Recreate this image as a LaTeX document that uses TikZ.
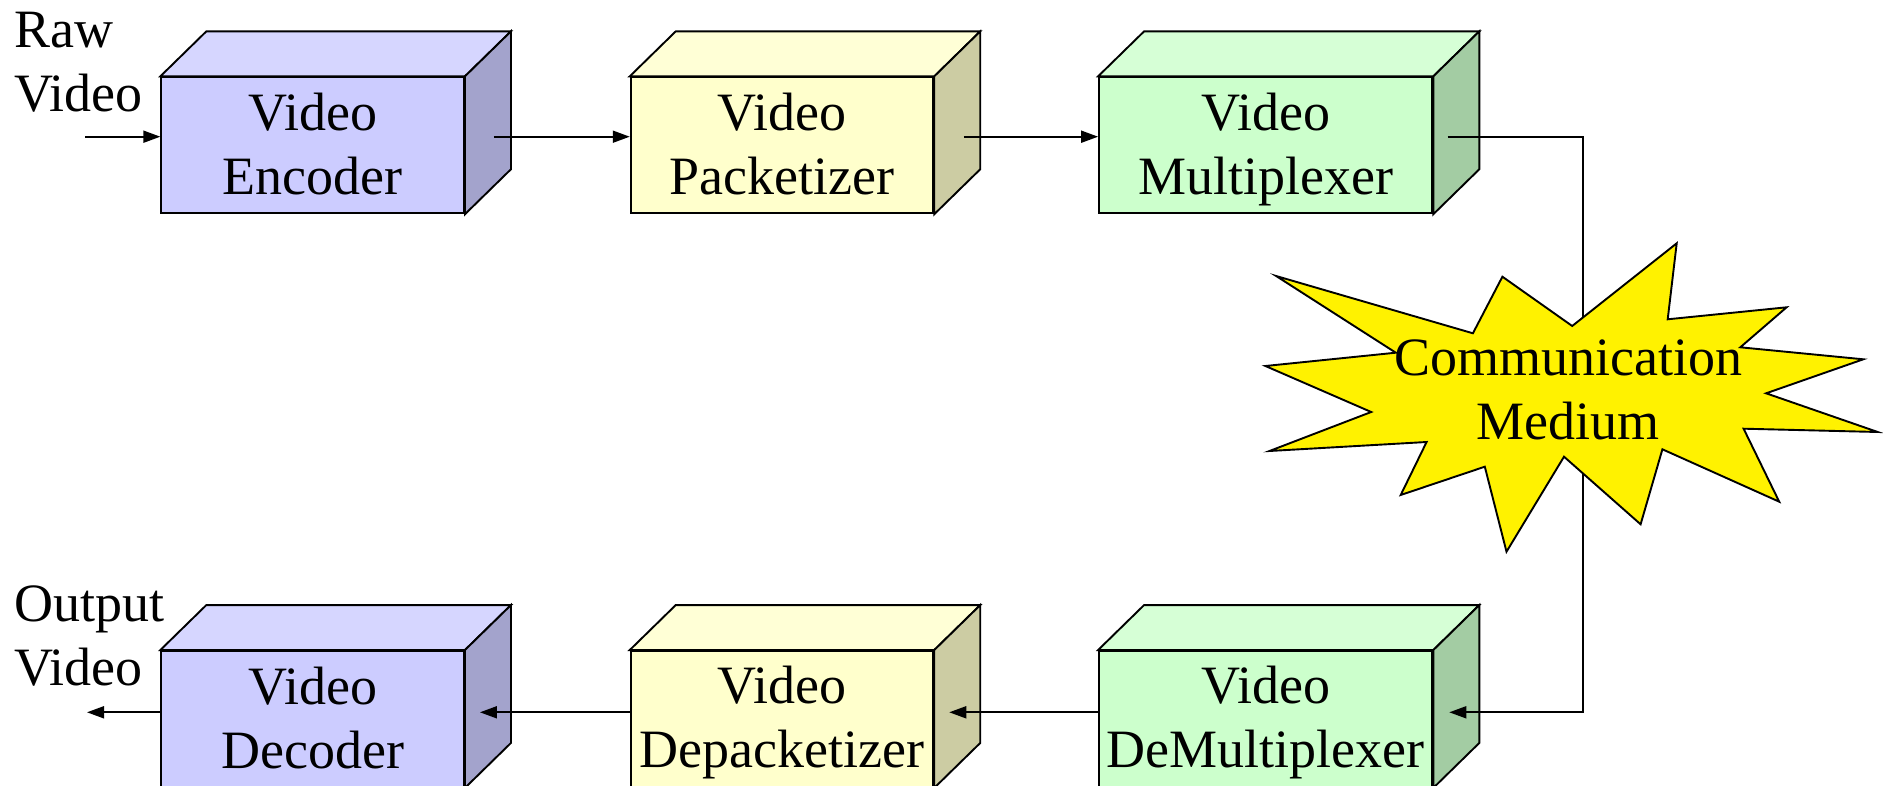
\documentclass[tikz,border=0pt]{standalone}
\usepackage{fontspec}
\setmainfont{Liberation Serif}
\usetikzlibrary{arrows.meta,calc}
\pgfdeclarelayer{fg}
\pgfsetlayers{main,fg}

% face colours of the three kinds of blocks: front, top, side
\definecolor{blueF}{HTML}{CCCCFF}
\definecolor{blueT}{HTML}{D6D6FF}
\definecolor{blueS}{HTML}{A3A3CC}
\definecolor{yelF}{HTML}{FFFFCC}
\definecolor{yelT}{HTML}{FFFFD6}
\definecolor{yelS}{HTML}{CCCCA3}
\definecolor{grnF}{HTML}{CCFFCC}
\definecolor{grnT}{HTML}{D6FFD6}
\definecolor{grnS}{HTML}{A3CCA3}

% strut that gives every text line the same height and depth
\newcommand\tstrut{\rule[-10.2pt]{0pt}{55.2pt}}

% top and right faces of a block, drawn from the anchors of its front face
\newcommand\prismfaces[3]{%
  \filldraw[fill=#2, line width=1.9pt]
    (#1.north west) -- ++(46pt,45pt) -- ([shift={(46pt,45pt)}]#1.north east)
    -- (#1.north east) -- cycle;
  \filldraw[fill=#3, line width=1.9pt]
    (#1.north east) -- ++(46pt,45pt) -- ([shift={(46pt,45pt)}]#1.south east)
    -- (#1.south east) -- cycle;
}

\tikzset{
  txt/.style={font=\fontsize{54}{64}\selectfont},
  front/.style={txt, draw, line width=1.9pt, inner sep=0pt,
    minimum height=136pt, align=center},
  sidelabel/.style={txt, inner sep=0pt, align=left, anchor=north west},
  conn/.style={line width=1.8pt},
  arr/.style={conn, -{Triangle[length=17pt,width=12pt]}},
  burst/.style={fill=yellow, draw, line width=1.9pt},
}

\begin{document}
\begin{tikzpicture}[x=1pt,y=-1pt]
\clip (0,0) rectangle (1883,786);

% transmitter chain
\node[front, fill=blueF, minimum width=302.7pt] (enc) at (312.65,145.3)
  {\tstrut Video\\\tstrut Encoder};
\prismfaces{enc}{blueT}{blueS}
\node[front, fill=yelF, minimum width=302.6pt] (pkt) at (782,145.3)
  {\tstrut Video\\\tstrut Packetizer};
\prismfaces{pkt}{yelT}{yelS}
\node[front, fill=grnF, minimum width=333.3pt] (mux) at (1265.7,145.3)
  {\tstrut Video\\\tstrut Multiplexer};
\prismfaces{mux}{grnT}{grnS}

% receiver chain
\node[front, fill=blueF, minimum width=302.7pt] (dec) at (312.65,719)
  {\tstrut Video\\\tstrut Decoder};
\prismfaces{dec}{blueT}{blueS}
\node[front, fill=yelF, minimum width=302.6pt] (dpk) at (782,719)
  {\tstrut Video\\\tstrut Depacketizer};
\prismfaces{dpk}{yelT}{yelS}
\node[front, fill=grnF, minimum width=333.3pt] (dmx) at (1265.7,719)
  {\tstrut Video\\\tstrut DeMultiplexer};
\prismfaces{dmx}{grnT}{grnS}

% input and output labels
\node[sidelabel] (rawlbl) at (14,2.5) {\tstrut Raw\\\tstrut Video};
\node[sidelabel] (outlbl) at (14,576) {\tstrut Output\\\tstrut Video};

% the channel, kept above the connectors
\begin{pgfonlayer}{fg}
\filldraw[burst]
  (1276.1,276) -- (1472.9,333.3) -- (1502.4,276.7) -- (1572.2,326)
  -- (1676.7,243.3) -- (1667.7,319.3) -- (1786.6,307.3) -- (1740.3,347.3)
  -- (1863.3,359.3) -- (1766.1,393.3) -- (1877.7,432) -- (1743.6,428.7)
  -- (1779.2,501.7) -- (1662.4,449.3) -- (1640.6,524.3) -- (1564,456.7)
  -- (1506.5,551.7) -- (1484.8,466.7) -- (1400.7,495) -- (1426.6,442)
  -- (1269.5,451) -- (1371.2,412) -- (1265.4,366) -- (1395.8,352.7) -- cycle;
\node[txt, inner sep=0pt, align=center] (medium) at (1568,390.5)
  {\tstrut Communication\\\tstrut Medium};
\end{pgfonlayer}

% connector rows and free ends
\coordinate (rowA) at (0,136.7);
\coordinate (rowB) at (0,712.3);
\coordinate (rawin) at (85,136.7);
\coordinate (vidout) at (87,712.3);
\coordinate (drop) at ($(medium.center)+(15pt,0)$);

% connectors
\draw[arr] (rawin) -- (enc.west |- rawin);
\draw[arr] ($(enc.east |- rowA)+(29pt,0)$) -- (pkt.west |- rowA);
\draw[arr] ($(pkt.east |- rowA)+(29.7pt,0)$) -- (mux.west |- rowA);
\draw[arr] ($(mux.east |- rowA)+(14.4pt,0)$) -| (drop)
  |- ($(dmx.east |- rowB)+(16pt,0)$);
\draw[arr] (dmx.west |- rowB) -- ($(dpk.east |- rowB)+(15pt,0)$);
\draw[arr] (dpk.west |- rowB) -- ($(dec.east |- rowB)+(15pt,0)$);
\draw[arr] (dec.west |- rowB) -- (vidout);
\end{tikzpicture}
\end{document}
